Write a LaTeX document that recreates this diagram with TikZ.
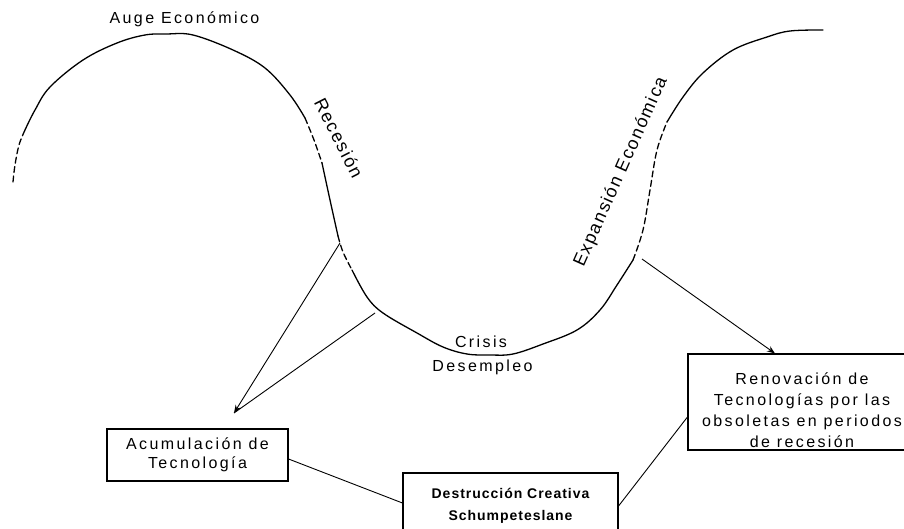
\documentclass[tikz,border=0pt]{standalone}
\usepackage{fontspec}
\usetikzlibrary{arrows.meta}
\setmainfont{Liberation Sans}
\newfontfamily\wide{Liberation Sans}[LetterSpace=15]
\newfontfamily\slant{Liberation Sans}[LetterSpace=9]
\newfontfamily\widebold{Liberation Sans}[LetterSpace=7,BoldFont={Liberation Sans Bold}]

\tikzset{
  cycle/.style={line width=1.3pt, line cap=round},
  gap/.style={cycle, dash pattern=on 6pt off 3.5pt},
  lbl/.style={font={\wide\fontsize{16}{18.7}\selectfont}, inner sep=0pt},
  phase/.style={font={\slant\fontsize{18}{20}\selectfont}, inner sep=0pt},
  boxed/.style={draw, line width=1.1pt, inner sep=0pt},
  link/.style={line width=0.9pt},
  tip/.style={link, -{Stealth[length=8pt,width=6pt]}}
}

\begin{document}
\begin{tikzpicture}[x=1pt, y=-1pt]
\useasboundingbox (0,0) rectangle (904,529);

% the business cycle wave
\draw[gap]   plot[smooth, tension=0.6] coordinates {(13,182) (15,165) (19,145) (25,130)};
\draw[cycle] plot[smooth, tension=0.6] coordinates {(25,130) (35,110) (50,87) (83,60) (117,43) (145,35) (167,34) (193,35) (233,50) (265,68) (290,95) (305,118)};
\draw[gap]   plot[smooth, tension=0.6] coordinates {(305,118) (314,140) (322,163)};
\draw[cycle] plot[smooth, tension=0.6] coordinates {(322,163) (330,200) (338,236)};
\draw[gap]   plot[smooth, tension=0.6] coordinates {(338,236) (343,252) (352,270)};
\draw[cycle] plot[smooth, tension=0.6] coordinates {(352,270) (367,297) (383,313) (417,333) (443,347) (467,354) (490,355) (513,354) (543,344) (577,330) (600,310) (617,285) (633,260)};
\draw[gap]   plot[smooth, tension=0.6] coordinates {(633,260) (643,230) (650,190) (657,150) (667,122)};
\draw[cycle] plot[smooth, tension=0.6] coordinates {(667,122) (683,97) (703,73) (733,50) (767,37) (790,31) (823,30)};

% phase labels
\node[lbl, anchor=base] (auge) at (184.5,24) {Auge Económico};
\node[phase, rotate=-63] (recesion) at (339,138) {Recesión};
\node[phase, rotate=66] (expansion) at (621,172) {Expansión Económica};
\node[lbl, anchor=base] (crisis) at (481,347) {Crisis};
\node[lbl, anchor=base] (desempleo) at (482.5,371.5) {Desempleo};

% boxes
\node[boxed, lbl, draw, line width=1.1pt, minimum width=181pt, minimum height=52pt, align=center]
  (acum) at (197.5,455) {Acumulación de\\Tecnología};
\node[boxed, minimum width=215pt, minimum height=66pt, align=center,
      font={\widebold\bfseries\fontsize{14}{21.7}\selectfont}]
  (destr) at (510.5,506) {Destrucción Creativa\\Schumpeteslane};
\node[boxed, minimum width=230pt, minimum height=96pt] (renov) at (803,402) {};
\node[lbl, align=center, font={\wide\fontsize{16}{21}\selectfont}] (renovtext) at (802,410)
  {Renovación de\\Tecnologías por las\\obsoletas en periodos\\de recesión};

% connectors
\coordinate (recA) at (340,243);
\coordinate (recB) at (375,313);
\coordinate (acumtip) at (234,413);
\coordinate (expA) at (642,259);
\draw[link] (recB) -- (acumtip);
\draw[tip] (recA) -- (acumtip);
\draw[tip] (expA) -- ([xshift=-28pt]renov.north);
\draw[link] ([yshift=-4pt]acum.east) -- ([yshift=3pt]destr.west);
\draw[link] (destr.east) -- ([yshift=-15pt]renov.west);
\end{tikzpicture}
\end{document}
